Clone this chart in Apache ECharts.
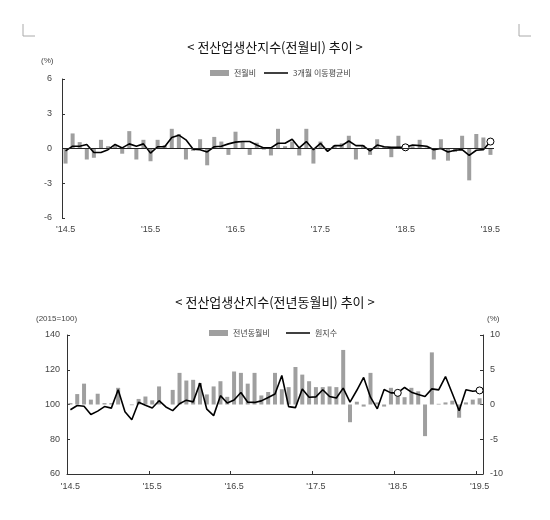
<!DOCTYPE html>
<html><head><meta charset="utf-8">
<script src="https://cdn.jsdelivr.net/npm/echarts@6/dist/echarts.min.js"></script>
<style>html,body{margin:0;padding:0;background:#fff}#c{width:550px;height:520px}</style>
</head><body><div id="c"></div>
<script>
const months = ['14.5','14.6','14.7','14.8','14.9','14.10','14.11','14.12',
  '15.1','15.2','15.3','15.4','15.5','15.6','15.7','15.8','15.9','15.10','15.11','15.12',
  '16.1','16.2','16.3','16.4','16.5','16.6','16.7','16.8','16.9','16.10','16.11','16.12',
  '17.1','17.2','17.3','17.4','17.5','17.6','17.7','17.8','17.9','17.10','17.11','17.12',
  '18.1','18.2','18.3','18.4','18.5','18.6','18.7','18.8','18.9','18.10','18.11','18.12',
  '19.1','19.2','19.3','19.4','19.5'];
const shownTicks = ['14.5','15.5','16.5','17.5','18.5','19.5'];

// top chart: 전월비 (%) and 3개월 이동평균비 (%)
const momChange = [-1.3,1.3,0.55,-0.95,-0.8,0.75,0.2,0.3,-0.45,1.5,-0.95,0.75,
  -1.1,0.75,0.3,1.7,1.25,-0.95,-0.2,0.8,-1.45,1.0,0.6,-0.55,
  1.45,0.6,-0.55,0.5,-0.1,-0.6,1.7,0.2,0.6,-0.6,1.7,-1.3,
  0.6,-0.2,0.3,0.45,1.1,-0.95,0.3,-0.55,0.8,0.15,-0.75,1.1,
  0.1,0.2,0.75,0.1,-0.95,0.8,-1.05,-0.3,1.1,-2.75,1.25,0.95,-0.55];
const momAvg3 = [-0.2,0.2,0.2,0.35,-0.35,-0.35,-0.1,0.35,0.05,0.4,0.2,0.4,
  -0.4,0.15,0.15,0.95,1.15,0.75,-0.05,-0.1,-0.3,0.15,0.2,0.4,
  0.55,0.6,0.6,0.3,0.05,0.05,0.45,0.45,0.8,0.05,0.6,-0.1,
  0.45,-0.25,0.25,0.25,0.65,0.25,0.25,-0.2,0.3,0.15,0.1,0.1,
  0.1,0.3,0.25,0.2,-0.1,0.0,-0.3,-0.15,-0.1,-0.6,-0.15,-0.1,0.6];

// bottom chart: 전년동월비 (%) and 원지수 (2015=100)
const yoyChange = [0.2,1.5,3.0,0.7,1.55,0.2,0.2,2.4,0.0,-0.1,0.8,1.15,
  0.6,2.6,0.0,2.1,4.55,3.45,3.55,3.1,1.45,2.6,3.35,1.1,
  4.75,4.55,3.0,4.55,1.3,1.8,4.55,2.2,2.5,5.4,4.3,3.35,
  2.5,2.5,2.6,2.5,7.85,-2.55,0.4,-0.3,4.55,0.3,-0.3,2.4,
  2.1,1.05,2.4,1.9,-4.55,7.5,0.1,0.3,0.55,-1.9,0.3,0.7,0.9];
const indexLevel = [97.0,99.4,99.0,94.2,96.2,98.8,97.9,108.5,95.8,91.2,101.3,99.6,
  98.0,102.2,98.6,96.5,100.4,102.5,101.5,112.3,97.3,93.6,105.1,100.9,
  102.6,106.9,101.3,101.2,102.1,104.0,106.0,116.7,98.8,98.2,108.9,104.2,
  104.4,108.5,104.6,103.7,109.4,101.4,108.2,115.6,104.2,97.5,108.6,106.7,
  106.7,109.8,107.1,105.8,104.6,109.0,108.4,116.1,106.3,96.4,108.5,107.6,108.1];
const circledMonths = ['18.5','19.5'];

const FONT = 'Liberation Sans';
const KFONT = 'Noto Sans CJK KR';
const BAR = '#9f9f9f';

function withCircles(arr){
  return arr.map((v,i)=> circledMonths.indexOf(months[i])>=0
    ? {value:v, symbol:'circle', symbolSize:7, itemStyle:{color:'#fff',borderColor:'#000',borderWidth:1}} : v);
}
const lblFmt = v => shownTicks.indexOf(v)>=0 ? "'" + v : '';
const legText = {fontFamily:KFONT,fontSize:8,color:'#444'};

const chart = echarts.init(document.getElementById('c'), null, {renderer:'canvas'});
chart.setOption({
  animation:false,
  backgroundColor:'#fff',
  title:[
    {text:'< 전산업생산지수(전월비) 추이 >', left:'center', top:36,
     textStyle:{fontFamily:KFONT,fontSize:13,fontWeight:'normal',color:'#111'}},
    {text:'< 전산업생산지수(전년동월비) 추이 >', left:'center', top:291,
     textStyle:{fontFamily:KFONT,fontSize:13,fontWeight:'normal',color:'#111'}}
  ],
  legend:[
    {data:[{name:'전월비', icon:'rect'}], left:205, top:64, itemWidth:19, itemHeight:6, itemGap:4, textStyle:legText},
    {data:[{name:'3개월 이동평균비', icon:'rect'}], left:259, top:64, itemWidth:24, itemHeight:1.5, itemGap:3, textStyle:legText},
    {data:[{name:'전년동월비', icon:'rect'}], left:204, top:324, itemWidth:19, itemHeight:6, textStyle:legText},
    {data:[{name:'원지수', icon:'rect'}], left:281, top:324, itemWidth:24, itemHeight:1.5, textStyle:legText}
  ],
  graphic:[
    {type:'text', left:41, top:57, style:{text:'(%)', font:'8px '+FONT, fill:'#444'}},
    {type:'text', left:36, top:315, style:{text:'(2015=100)', font:'8px '+FONT, fill:'#444'}},
    {type:'text', left:487, top:315, style:{text:'(%)', font:'8px '+FONT, fill:'#444'}},
    {type:'polyline', shape:{points:[[23,24],[23,36],[35,36]]}, style:{stroke:'#aaa',lineWidth:1,fill:null}},
    {type:'polyline', shape:{points:[[519,24],[519,36],[531,36]]}, style:{stroke:'#aaa',lineWidth:1,fill:null}}
  ],
  grid:[
    {left:62, right:56, top:79, height:139},
    {left:67, right:67, top:335, height:139}
  ],
  xAxis:[
    {type:'category', gridIndex:0, data:months, boundaryGap:true,
     axisLine:{show:false,onZero:false}, axisTick:{show:false},
     axisLabel:{interval:0, formatter:lblFmt, margin:7, fontFamily:FONT, fontSize:9, color:'#444'}},
    {type:'category', gridIndex:1, data:months, boundaryGap:true,
     axisLine:{show:true,onZero:false,lineStyle:{color:'#333',width:1}},
     axisTick:{show:true,inside:true,length:3,interval:11,lineStyle:{color:'#333'}},
     axisLabel:{interval:0, formatter:lblFmt, margin:8, fontFamily:FONT, fontSize:9, color:'#444'}}
  ],
  yAxis:[
    {type:'value', gridIndex:0, min:-6, max:6, interval:3,
     axisLine:{show:true,lineStyle:{color:'#333',width:1}},
     axisTick:{show:true,inside:true,length:3,lineStyle:{color:'#333'}},
     splitLine:{show:false},
     axisLabel:{margin:10, fontFamily:FONT, fontSize:9, color:'#444'}},
    {type:'value', gridIndex:1, min:60, max:140, interval:20,
     axisLine:{show:true,lineStyle:{color:'#333',width:1}},
     axisTick:{show:true,inside:true,length:3,lineStyle:{color:'#333'}},
     splitLine:{show:false},
     axisLabel:{margin:7, fontFamily:FONT, fontSize:9, color:'#444'}},
    {type:'value', gridIndex:1, position:'right', min:-10, max:10, interval:5,
     axisLine:{show:true,lineStyle:{color:'#333',width:1}},
     axisTick:{show:true,inside:true,length:3,lineStyle:{color:'#333'}},
     splitLine:{show:false},
     axisLabel:{margin:7, fontFamily:FONT, fontSize:9, color:'#444'}}
  ],
  series:[
    {name:'전월비', type:'bar', xAxisIndex:0, yAxisIndex:0, data:momChange,
     barWidth:4, itemStyle:{color:BAR},
     markLine:{silent:true, symbol:'none', label:{show:false},
       lineStyle:{color:'#222',width:1,type:'solid'}, data:[{yAxis:0}]}},
    {name:'3개월 이동평균비', type:'line', xAxisIndex:0, yAxisIndex:0, data:withCircles(momAvg3),
     symbol:'none', lineStyle:{color:'#000',width:1.6}, itemStyle:{color:'#000'}, z:3},
    {name:'전년동월비', type:'bar', xAxisIndex:1, yAxisIndex:2, data:yoyChange,
     barWidth:4, itemStyle:{color:BAR}},
    {name:'원지수', type:'line', xAxisIndex:1, yAxisIndex:1, data:withCircles(indexLevel),
     symbol:'none', lineStyle:{color:'#000',width:1.6}, itemStyle:{color:'#000'}, z:3}
  ]
});
</script></body></html>
